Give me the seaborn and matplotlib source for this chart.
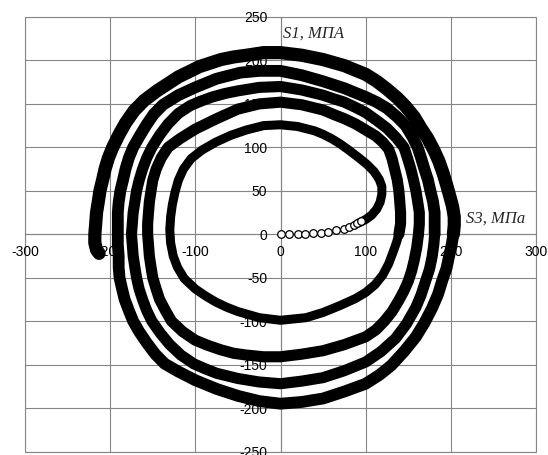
import pandas as pd
import matplotlib.pyplot as plt
from matplotlib.patches import Rectangle
import seaborn as sns

# open circles at the start of the path (S3 -> x, S1 -> y)
start_s3 = [0, 10, 20, 29, 38, 47, 56, 65, 74, 81, 86, 90, 94]
start_s1 = [0, 0.4, 0.4, 0.8, 1.2, 2, 3, 4.7, 6.6, 8, 10.5, 13, 15]

# dense part of the trajectory
turn1_s3 = [92, 100, 107, 113, 117, 119, 119, 116, 110, 102, 92, 80, 70, 60, 50, 40, 20, 0, -20, -40,
            -58, -76, -92, -105, -114, -120, -124, -127, -129, -130, -129, -126, -121, -113, -100, -88,
            -76, -63, -50, -25, 0, 30, 50, 70, 88, 100, 111, 120, 127, 132, 136, 139]
turn1_s1 = [13, 17, 22, 29, 37, 46, 55, 63, 72, 80, 88, 97, 104, 110, 115, 119, 124, 126, 125, 120,
            114, 106, 97, 87, 75, 62, 48, 34, 20, 5, -10, -25, -38, -51, -63, -71,
            -78, -84, -89, -96, -99, -96, -90, -82, -74, -67, -58, -47, -34, -21, -10, 0]
turn2_s3 = [141, 141, 140, 139, 137, 134, 131, 127, 120, 112, 100, 88, 75, 62, 50, 25, 0, -25, -50, -75,
            -100, -118, -132, -140, -146, -150, -152, -154, -155, -156, -156, -155, -154, -152, -150,
            -146, -142, -135, -128, -115, -100, -85, -70, -55, -40, -20, 0, 25, 50, 75, 100, 112, 122,
            131, 139, 145, 150, 154, 157, 160, 162]
turn2_s1 = [12, 25, 38, 50, 63, 75, 87, 98, 106, 113, 120, 127, 133, 138, 143, 149, 152, 150, 144, 133,
            121, 110, 100, 88, 75, 62, 50, 37, 25, 12, 0, -12, -25, -38, -50,
            -63, -75, -88, -100, -112, -122, -128, -133, -137, -139, -141, -141, -138, -134, -127, -118, -110, -100,
            -89, -76, -65, -54, -42, -30, -15, 0]
turn3_s3 = [163, 163, 161, 159, 156, 153, 149, 145, 136, 125, 113, 100, 88, 75, 62, 50, 25, 0, -25, -50,
            -65, -80, -94, -106, -120, -132, -142, -151, -157, -162, -166, -169, -171, -173, -174, -175,
            -174, -173, -171, -169, -166, -162, -157, -151, -141, -130, -117, -102, -88, -75, -50, -25, 0,
            25, 50, 75, 100, 118, 135, 148, 159, 165, 170, 175, 178, 180, 181]
turn3_s1 = [12, 25, 38, 50, 63, 75, 88, 100, 111, 122, 131, 140, 146, 152, 156, 160, 166, 170, 169, 165,
            162, 158, 153, 148, 139, 127, 114, 100, 88, 75, 62, 50, 37, 25, 12, 0,
            -12, -25, -38, -50, -63, -75, -88, -100, -114, -127, -139, -149, -155, -160, -166, -170, -172,
            -169, -165, -157, -147, -135, -120, -103, -84, -70, -55, -40, -26, -12, 0]
turn4_s3 = [181, 181, 179, 176, 173, 169, 165, 161, 155, 147, 137, 125, 113, 100, 75, 50, 25, 0, -25, -47,
            -75, -100, -120, -138, -149, -158, -166, -173, -178, -182, -185, -188, -190, -191, -191, -191,
            -191, -190, -190, -189, -186, -183, -178, -173, -166, -157, -147, -136, -120, -100, -75, -50,
            -25, 0, 25, 50, 75, 100, 116, 130, 145, 159, 169, 178, 185, 190, 195, 198, 201, 203]
turn4_s1 = [12, 25, 38, 50, 63, 75, 88, 100, 112, 125, 135, 145, 152, 158, 168, 176, 183, 188, 188, 186,
            179, 169, 160, 149, 138, 125, 112, 100, 88, 75, 62, 50, 37, 25, 12, 0,
            -12, -25, -38, -50, -63, -75, -88, -100, -112, -125, -138, -149, -158, -168, -178, -186,
            -192, -195, -193, -189, -181, -172, -162, -151, -135, -118, -102, -85, -69, -53, -39, -25, -12, 0]
turn5_s3 = [204, 204, 202, 199, 195, 191, 186, 180, 173, 165, 157, 147, 137, 125, 113, 100, 75, 50, 25, 0,
            -20, -40, -55, -70, -95, -120, -145, -160, -172, -182, -190, -197, -202, -206, -209, -212,
            -214, -216, -217, -218, -218, -216, -213]
turn5_s1 = [10, 20, 32, 43, 57, 70, 84, 97, 110, 122, 135, 147, 157, 167, 176, 184, 194, 201, 206, 209,
            209, 206, 204, 201, 193, 181, 165, 154, 142, 128, 114, 100, 88, 75, 62, 50,
            37, 25, 12, 0, -10, -18, -22]

x_ticks = list(range(-300, 301, 100))
y_ticks = list(range(-250, 251, 50))

turns = [(turn1_s3, turn1_s1), (turn2_s3, turn2_s1), (turn3_s3, turn3_s1),
         (turn4_s3, turn4_s1), (turn5_s3, turn5_s1)]
widths = [6.5, 8, 8, 8.5, 9.5]

sns.set_style('white')
plt.rcParams['font.family'] = ['Liberation Sans', 'DejaVu Sans']
plt.rcParams['axes.unicode_minus'] = False

fig = plt.figure(figsize=(5.48, 4.55), dpi=100)
ax = fig.add_axes([25 / 548, 3.5 / 455, 511 / 548, 434.5 / 455])

# each turn is drawn as a thick black band, joined to the end of the previous one
prev = None
for (xs, ys), lw in zip(turns, widths):
    seg = pd.DataFrame({'S3': xs, 'S1': ys})
    if prev is not None:
        seg = pd.concat([prev, seg], ignore_index=True)
    sns.lineplot(data=seg, x='S3', y='S1', sort=False, estimator=None, color='black',
                 linewidth=lw, solid_capstyle='round', solid_joinstyle='round', ax=ax, zorder=2)
    prev = seg.tail(1)

start = pd.DataFrame({'S3': start_s3, 'S1': start_s1})
sns.scatterplot(data=start, x='S3', y='S1', marker='o', s=30, facecolor='white',
                edgecolor='black', linewidth=0.9, ax=ax, zorder=3)

ax.set_xlim(-300, 300)
ax.set_ylim(-250, 250)
ax.set_xticks(x_ticks)
ax.set_yticks(y_ticks)
ax.set_xlabel('')
ax.set_ylabel('')
ax.grid(True, color='#858585', linewidth=0.8)
ax.set_axisbelow(True)

# axes cross at the origin, grey frame round the plot area
ax.spines['top'].set_visible(False)
ax.spines['right'].set_visible(False)
for side in ['left', 'bottom']:
    ax.spines[side].set_position('zero')
    ax.spines[side].set_color('#858585')
    ax.spines[side].set_linewidth(0.8)
    ax.spines[side].set_zorder(0.5)
ax.add_patch(Rectangle((0, 0), 1, 1, transform=ax.transAxes, fill=False,
                       edgecolor='#858585', linewidth=0.8, zorder=0.5, clip_on=False))

ax.tick_params(axis='both', length=0, labelsize=10, colors='black')
ax.tick_params(axis='x', pad=8)
ax.tick_params(axis='y', pad=9.5)

ax.text(3.3, 231, 'S1, МПА', family='Liberation Serif', style='italic', fontsize=12,
        ha='left', va='center')
ax.text(218, 18.5, 'S3, МПа', family='Liberation Serif', style='italic', fontsize=12,
        ha='left', va='center')

fig.savefig('out.png', dpi=100)
